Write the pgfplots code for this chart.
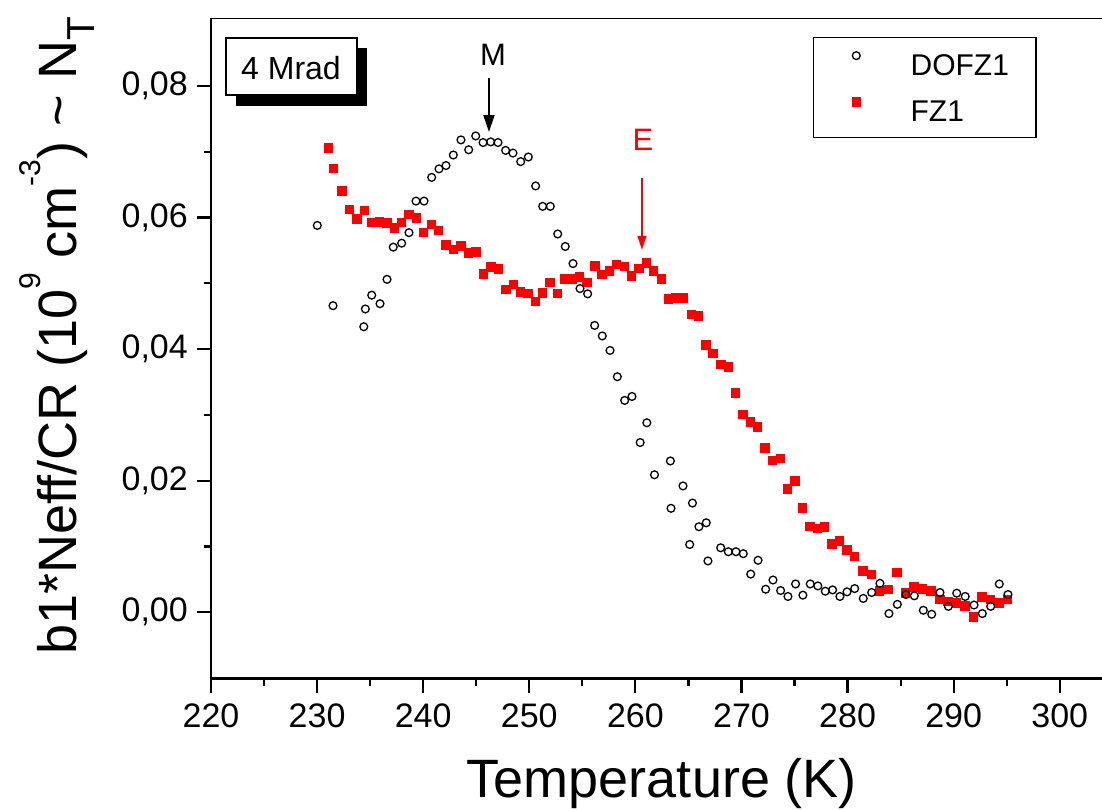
\documentclass[border=0pt]{standalone}
\usepackage{pgfplots}
\pgfplotsset{compat=1.18}
\usepackage{fontspec}
\setmainfont{Liberation Sans}
\usetikzlibrary{arrows.meta}
\pgfplotsset{mylegend/.style={legend image code/.code={\path (-15pt,10.5pt); \draw[##1] plot coordinates {(0pt,10.5pt)};}}}
\newcommand{\sups}[1]{\raisebox{36pt}{\fontsize{30}{30}\selectfont #1}}
\newcommand{\subs}[1]{\raisebox{-18pt}{\fontsize{39}{39}\selectfont #1}}
\pgfplotstableread{
x y
230.02 0.0588
231.50 0.0466
234.40 0.0434
234.55 0.0461
235.15 0.0482
235.93 0.0469
236.59 0.0506
237.18 0.0555
237.97 0.0561
238.66 0.0577
239.32 0.0625
240.08 0.0625
240.80 0.0661
241.49 0.0674
242.15 0.0679
242.84 0.0695
243.56 0.0718
244.29 0.0703
244.95 0.0724
245.64 0.0714
246.36 0.0715
247.05 0.0714
247.77 0.0702
248.46 0.0698
249.19 0.0685
249.91 0.0692
250.60 0.0648
251.26 0.0617
251.98 0.0617
252.68 0.0575
253.39 0.0556
254.12 0.0530
254.78 0.0492
255.50 0.0484
256.16 0.0436
256.88 0.0420
257.61 0.0398
258.30 0.0358
258.99 0.0322
259.68 0.0328
260.45 0.0258
261.08 0.0288
261.80 0.0209
263.30 0.0230
263.36 0.0158
264.49 0.0192
265.12 0.0103
265.38 0.0166
265.99 0.0130
266.68 0.0136
266.84 0.0078
268.04 0.0098
268.76 0.0092
269.48 0.0092
270.17 0.0089
270.87 0.0058
271.56 0.0079
272.28 0.0035
272.97 0.0049
273.69 0.0033
274.38 0.0024
275.10 0.0043
275.79 0.0026
276.48 0.0043
277.20 0.0040
277.90 0.0032
278.59 0.0034
279.28 0.0024
279.95 0.0031
280.67 0.0036
281.48 0.0021
282.27 0.0030
283.05 0.0044
283.90 -0.0002
284.69 0.0012
285.50 0.0027
286.29 0.0025
287.14 0.0003
287.93 -0.0003
288.71 0.0030
289.50 0.0009
290.29 0.0029
291.09 0.0024
291.92 0.0011
292.70 -0.0002
293.49 0.0009
294.30 0.0043
295.12 0.0027
}\dofz
\pgfplotstableread{
x y
231.06 0.0706
231.53 0.0675
232.32 0.0641
233.03 0.0613
233.73 0.0598
234.42 0.0611
235.15 0.0593
235.83 0.0594
236.56 0.0592
237.25 0.0585
237.91 0.0593
238.63 0.0605
239.32 0.0600
240.01 0.0578
240.74 0.0590
241.42 0.0581
242.12 0.0559
242.84 0.0552
243.53 0.0557
244.25 0.0547
244.95 0.0548
245.64 0.0515
246.36 0.0525
247.05 0.0522
247.77 0.0491
248.46 0.0499
249.15 0.0487
249.85 0.0485
250.54 0.0473
251.23 0.0486
251.92 0.0502
252.64 0.0485
253.34 0.0507
254.02 0.0507
254.71 0.0510
255.41 0.0502
256.16 0.0527
256.82 0.0514
257.51 0.0519
258.20 0.0529
258.93 0.0526
259.61 0.0512
260.31 0.0523
261.00 0.0531
261.69 0.0519
262.41 0.0507
263.10 0.0477
263.80 0.0478
264.51 0.0478
265.24 0.0453
265.93 0.0451
266.62 0.0407
267.31 0.0394
268.04 0.0377
268.73 0.0373
269.42 0.0334
270.11 0.0301
270.80 0.0290
271.49 0.0282
272.21 0.0250
272.90 0.0231
273.63 0.0234
274.32 0.0188
275.01 0.0200
275.73 0.0159
276.43 0.0131
277.12 0.0128
277.80 0.0130
278.50 0.0104
279.19 0.0109
279.92 0.0095
280.63 0.0085
281.42 0.0063
282.23 0.0058
282.99 0.0033
283.84 0.0035
284.63 0.0061
285.41 0.0030
286.23 0.0039
287.04 0.0036
287.83 0.0033
288.65 0.0020
289.43 0.0017
290.25 0.0015
291.04 0.0010
291.85 -0.0007
292.64 0.0024
293.45 0.0020
294.24 0.0015
295.05 0.0020
}\fz
\begin{document}
\begin{tikzpicture}
\useasboundingbox (0pt,0pt) rectangle (1102pt,810pt);
\begin{axis}[
  at={(211pt,131.3pt)}, anchor=south west,
  scale only axis, width=891.2pt, height=660.5pt,
  xmin=220, xmax=304, ymin=-0.0101, ymax=0.0903,
  axis lines=left, axis line style={-, line width=2.6pt},
  tick align=outside, tick style={line width=2.2pt, black},
  major tick length=14pt, minor tick length=7pt,
  xtick={220,230,...,300}, minor x tick num=1,
  ytick={0,0.02,0.04,0.06,0.08}, minor y tick num=1,
  scaled y ticks=false,
  /pgf/number format/assume math mode=true,
  tick label style={font=\fontsize{34}{40}\selectfont},
  yticklabel style={/pgf/number format/use comma, /pgf/number format/fixed,
    /pgf/number format/fixed zerofill, /pgf/number format/precision=2,
    anchor=east, inner sep=0pt, xshift=-9pt},
  xticklabel style={anchor=base, yshift=-35pt},
  xlabel={Temperature (K)},
  ylabel={b1*Neff/CR (10\sups{9} cm\sups{-3}) \textasciitilde{} N\subs{T}},
  label style={font=\fontsize{54}{64}\selectfont},
  xlabel style={at={(rel axis cs:0.506,-0.1806)}, anchor=base},
  ylabel style={at={(rel axis cs:-0.1504,0.5189)}, anchor=base},
  reverse legend,
  legend style={at={(rel axis cs:0.6756,0.9713)}, anchor=north west, draw=black, line width=1.2pt,
    inner xsep=27pt, inner ysep=14pt, row sep=20pt, column sep=50pt,
    font=\fontsize{30}{36}\selectfont, nodes={inner sep=0pt}},
  legend cell align=left,
]
\addplot[only marks, mark=square*, color=red, mark size=4.3pt,
  mark options={fill=red, draw=red, line width=0.3pt}, mylegend]
  table[x=x,y=y] {\fz};
\addlegendentry{FZ1}
\addplot[only marks, mark=o, color=black, mark size=3.9pt,
  mark options={line width=1.3pt}, mylegend]
  table[x=x,y=y] {\dofz};
\addlegendentry{DOFZ1}
\draw[line width=2.6pt] ([xshift=-7pt]rel axis cs:0,1) -- (rel axis cs:1,1);
\draw[line width=1.8pt, -{Triangle[length=17pt,width=11pt]}] (axis cs:246.2,0.0812) -- (axis cs:246.2,0.0730);
\node[font=\fontsize{31}{37}\selectfont] at (axis cs:246.58,0.0847) {M};
\draw[red, line width=1.5pt, -{Triangle[length=14pt,width=9pt]}] (axis cs:260.62,0.0660) -- (axis cs:260.62,0.0551);
\node[red, font=\fontsize{31}{37}\selectfont] at (axis cs:260.72,0.0718) {E};
\end{axis}
\fill[black] (236pt,704pt) rectangle (367pt,762pt);
\draw[line width=1.3pt, fill=white] (226pt,715pt) rectangle (357pt,772pt);
\node[font=\fontsize{32}{38}\selectfont] at (291pt,742pt) {4 Mrad};
\end{tikzpicture}
\end{document}
